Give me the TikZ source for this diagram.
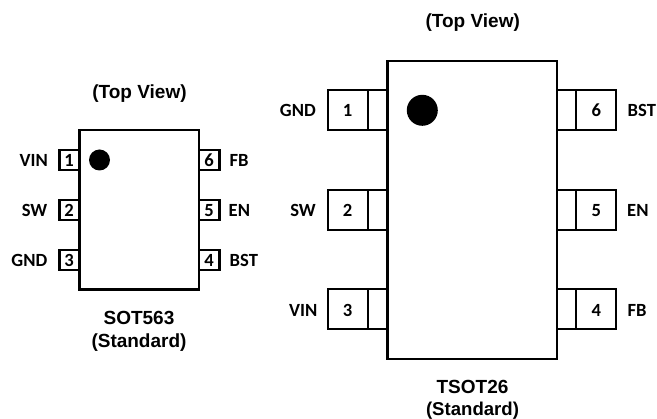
\documentclass[tikz,border=0pt]{standalone}
\usepackage{fontspec}
\setmainfont{Liberation Sans}
\newfontfamily\lblfont{Carlito}
\tikzset{
  box/.style={draw=black,line width=2.2pt,fill=white,inner sep=0pt,outer sep=0pt,rectangle},
  pinlabel/.style={font=\lblfont\bfseries\fontsize{18.6}{20}\selectfont,inner sep=0pt,text=black,text height=11.8pt,text depth=0pt},
  title/.style={font=\bfseries\fontsize{19}{21}\selectfont,inner sep=0pt,text=black,align=center,text height=13.6pt,text depth=0pt},
  dot/.style={circle,fill=black,draw=none,inner sep=0pt}
}
\begin{document}
\begin{tikzpicture}[x=1pt,y=-1pt]
\useasboundingbox (0,0) rectangle (657,419);
% small package (left)
\node[box,minimum width=41pt,minimum height=20pt] (a1) at (80,160) {};
\node[box,minimum width=41pt,minimum height=20pt] (a2) at (80,210) {};
\node[box,minimum width=41pt,minimum height=20pt] (a3) at (80,260) {};
\node[box,minimum width=41pt,minimum height=20pt] (a6) at (199,160) {};
\node[box,minimum width=41pt,minimum height=20pt] (a5) at (199,210) {};
\node[box,minimum width=41pt,minimum height=20pt] (a4) at (199,260) {};
\node[box,minimum width=119.5pt,minimum height=159.5pt] (abody) at (139.25,209.75) {};
\node[dot,minimum size=21pt] (adot) at (99.5,160) {};
\foreach \n/\x/\y/\t in {n1/69/160.5/1,n2/69/210.5/2,n3/69/260.5/3,n6/209/160.5/6,n5/209/210.5/5,n4/209/260.5/4}
  \node[pinlabel] (a\n) at (\x,\y) {\t};
\node[pinlabel,anchor=east] (aVIN) at (48,160.5) {VIN};
\node[pinlabel,anchor=east] (aSW)  at (47.5,210.5) {SW};
\node[pinlabel,anchor=east] (aGND) at (47.5,260.5) {GND};
\node[pinlabel,anchor=west] (aFB)  at (229.5,160.5) {FB};
\node[pinlabel,anchor=west] (aEN)  at (228.5,210.5) {EN};
\node[pinlabel,anchor=west] (aBST) at (229.5,260.5) {BST};
\node[title] (atop) at (139.5,91.5) {(Top View)};
\node[title] (aname) at (139,318) {SOT563};
\node[title] (astd) at (139,340.5) {(Standard)};
% large package (right)
\foreach \n/\y/\ty in {1/110.3/111,2/210/210.5,3/309.3/310.5}{
  \node[box,minimum width=60pt,minimum height=40pt] (bl\n) at (357.7,\y) {};
  \node[box,minimum width=40pt,minimum height=40pt] (bp\n) at (347.7,\y) {};
  \node[pinlabel] (bn\n) at (347.7,\ty) {\n};
}
\foreach \n/\y/\ty in {6/110.3/111,5/210/210.5,4/309.3/310.5}{
  \node[box,minimum width=60pt,minimum height=40pt] (br\n) at (586.3,\y) {};
  \node[box,minimum width=40pt,minimum height=40pt] (bp\n) at (596.3,\y) {};
  \node[pinlabel] (bn\n) at (596.3,\ty) {\n};
}
\node[box,minimum width=169.2pt,minimum height=298pt] (bbody) at (472.1,210) {};
\node[dot,minimum size=31pt] (bdot) at (422.3,110.3) {};
\node[pinlabel,anchor=east] (bGND) at (316,111) {GND};
\node[pinlabel,anchor=east] (bSW)  at (316,210.5) {SW};
\node[pinlabel,anchor=east] (bVIN) at (317.5,310.5) {VIN};
\node[pinlabel,anchor=west] (bBST) at (627.5,111) {BST};
\node[pinlabel,anchor=west] (bEN)  at (627,210.5) {EN};
\node[pinlabel,anchor=west] (bFB)  at (627.5,310.5) {FB};
\node[title] (btop) at (472.7,21) {(Top View)};
\node[title] (bname) at (472.5,387) {TSOT26};
\node[title,font=\bfseries\fontsize{18.6}{21}\selectfont] (bstd) at (472.5,408.3) {(Standard)};
\end{tikzpicture}
\end{document}
